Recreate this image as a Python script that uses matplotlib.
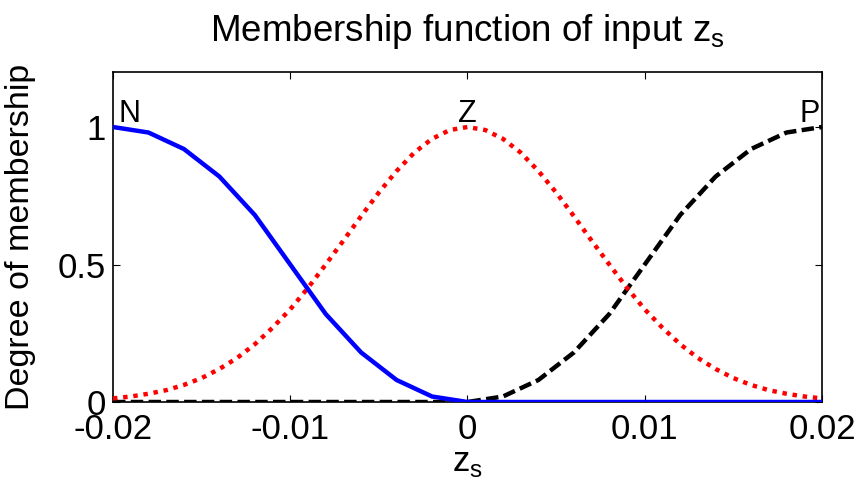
import numpy as np
import matplotlib
matplotlib.use('Agg')
import matplotlib.pyplot as plt

plt.rcParams['font.family'] = 'Liberation Sans'
plt.rcParams['mathtext.fontset'] = 'custom'
plt.rcParams['mathtext.rm'] = 'Liberation Sans'
plt.rc('axes', unicode_minus=False)

# N and P sampled every 0.002, Z every 0.001
zs = np.linspace(-0.02, 0.02, 21)
zs_fine = np.linspace(-0.02, 0.02, 41)
mf_N = [1.0, 0.98, 0.92, 0.82, 0.68, 0.50, 0.32, 0.18, 0.08, 0.02, 0.0,
        0.0, 0.0, 0.0, 0.0, 0.0, 0.0, 0.0, 0.0, 0.0, 0.0]
mf_Z = [0.013, 0.02, 0.03, 0.043, 0.062, 0.087, 0.12, 0.16, 0.21, 0.27,
        0.337, 0.415, 0.50, 0.587, 0.676, 0.762, 0.84, 0.907, 0.957, 0.989,
        1.0,
        0.989, 0.957, 0.907, 0.84, 0.762, 0.676, 0.587, 0.50, 0.415, 0.337,
        0.27, 0.21, 0.16, 0.12, 0.087, 0.062, 0.043, 0.03, 0.02, 0.013]
mf_P = [0.0, 0.0, 0.0, 0.0, 0.0, 0.0, 0.0, 0.0, 0.0, 0.0, 0.0,
        0.02, 0.08, 0.18, 0.32, 0.50, 0.68, 0.82, 0.92, 0.98, 1.0]
mf_names = ['N', 'Z', 'P']
x_ticks = [-0.02, -0.01, 0, 0.01, 0.02]
x_ticklabels = ['-0.02', '-0.01', '0', '0.01', '0.02']
y_ticks = [0, 0.5, 1]
y_ticklabels = ['0', '0.5', '1']

W = 8.6
H = 4.83
fig = plt.figure(figsize=(W, H), dpi=100)
ax = fig.add_axes([0.1314, 0.1677, 0.8244, 0.6832])

ax.plot(zs, mf_P, color='black', lw=3.2, linestyle=(0, (2.8, 1.2)), zorder=3)
ax.plot(zs_fine, mf_Z, color='red', lw=3.2, linestyle=(0, (1, 1.3)), zorder=3)
ax.plot(zs, mf_N, color='blue', lw=3.2, zorder=4)

# name of each membership function above its peak
ax.text(-0.0197, 1.02, mf_names[0], fontsize=22, ha='left', va='baseline')
ax.text(0.0, 1.02, mf_names[1], fontsize=22, ha='center', va='baseline')
ax.text(0.0199, 1.02, mf_names[2], fontsize=22, ha='right', va='baseline')

ax.set_xlim([-0.02, 0.02])
ax.set_ylim([0, 1.2])
ax.set_xticks(x_ticks)
ax.set_xticklabels(x_ticklabels)
ax.set_yticks(y_ticks)
ax.set_yticklabels(y_ticklabels)
ax.tick_params(direction='in', length=5, width=0.8, top=True, right=True,
               labelsize=25)
ax.tick_params(axis='y', pad=5)
ax.tick_params(axis='x', pad=8)
for s in ax.spines.values():
    s.set_linewidth(1.2)

ax.set_title(r'Membership function of input z$_\mathregular{s}$', fontsize=26.5, pad=22)
ax.set_xlabel(r'z$_\mathregular{s}$', fontsize=25, labelpad=0)
ax.set_ylabel('Degree of membership', fontsize=24.5)
ax.yaxis.set_label_coords(-0.108, 0.5)

plt.savefig('out.png', dpi=100)
plt.close()
